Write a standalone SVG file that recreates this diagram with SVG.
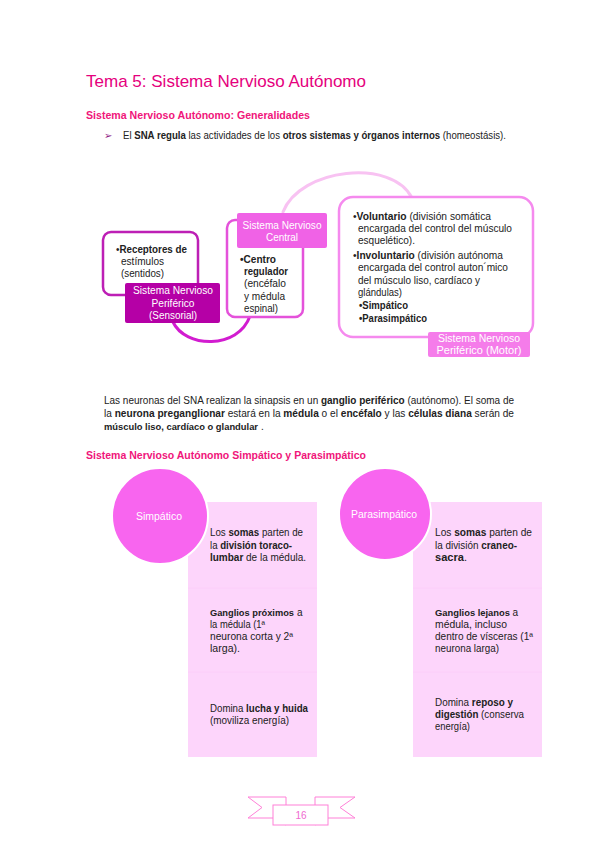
<svg xmlns="http://www.w3.org/2000/svg" width="599" height="848" viewBox="0 0 599 848">
<style>
.t{font-family:"Liberation Sans",Arial,sans-serif;font-size:10px;fill:#222}
.b{font-weight:bold}
.s{font-size:9.6px}
.w{fill:#fff}
.h1{font-family:"Liberation Sans",Arial,sans-serif;font-size:17px;fill:#E5007D}
.h2{font-family:"Liberation Sans",Arial,sans-serif;font-size:11px;font-weight:bold;fill:#F0157A}
.c{text-anchor:middle}
.arc{fill:none;stroke-width:3;stroke-linecap:round}
.box{fill:#fff;stroke-width:2.5}
.col{fill:#FDD5FB}
.sep{stroke:#FCCEF9;stroke-width:1}
.circ{fill:#F865EF;stroke:#fff;stroke-width:2}
.rib{fill:#fff;stroke:#FF80D8;stroke-width:1}
</style>
<rect width="599" height="848" fill="#fff"/>

<g id="title">
<text class="h1" x="86" y="87" textLength="280" lengthAdjust="spacingAndGlyphs">Tema 5: Sistema Nervioso Autónomo</text>
<text class="h2" x="86" y="119" textLength="224" lengthAdjust="spacingAndGlyphs">Sistema Nervioso Autónomo: Generalidades</text>
<text x="104" y="139" font-family="DejaVu Sans,sans-serif" font-size="10" fill="#8E1B84">➢</text>
<text class="t" x="123" y="139" textLength="383" lengthAdjust="spacingAndGlyphs">El <tspan class="b">SNA regula</tspan> las actividades de los <tspan class="b">otros sistemas y órganos internos</tspan> (homeostásis).</text>
</g>

<g id="connectors">
<path class="arc" stroke="#D21CD0" d="M173,322 C185,348 238,350 250,316"/>
<path class="arc" stroke="#F8C2F2" d="M283,212 C300,168 392,158 412,198"/>
</g>

<g id="sensorial">
<rect class="box" x="103" y="232" width="95" height="63" rx="8" stroke="#BD1FB5"/>
<text class="t" x="116" y="253" textLength="71" lengthAdjust="spacingAndGlyphs">•<tspan class="b">Receptores de</tspan></text>
<text class="t" x="121" y="265" textLength="43" lengthAdjust="spacingAndGlyphs">estímulos</text>
<text class="t" x="121" y="277" textLength="43" lengthAdjust="spacingAndGlyphs">(sentidos)</text>
<rect x="125" y="283" width="95" height="40" rx="2" fill="#B500A6"/>
<text class="t w c" x="173" y="294" textLength="80" lengthAdjust="spacingAndGlyphs">Sistema Nervioso</text>
<text class="t w c" x="173" y="307" textLength="43" lengthAdjust="spacingAndGlyphs">Periférico</text>
<text class="t w c" x="173" y="319" textLength="48" lengthAdjust="spacingAndGlyphs">(Sensorial)</text>
</g>

<g id="central">
<rect class="box" x="227" y="220" width="76" height="97" rx="8" stroke="#E452DA"/>
<rect x="237" y="213" width="90" height="35" rx="2" fill="#F062E6"/>
<text class="t w c" x="282" y="229" textLength="79" lengthAdjust="spacingAndGlyphs">Sistema Nervioso</text>
<text class="t w c" x="282" y="241" textLength="32" lengthAdjust="spacingAndGlyphs">Central</text>
<text class="t b" x="240" y="263" textLength="36" lengthAdjust="spacingAndGlyphs">•Centro</text>
<text class="t b" x="244" y="275" textLength="44" lengthAdjust="spacingAndGlyphs">regulador</text>
<text class="t" x="244" y="287" textLength="42" lengthAdjust="spacingAndGlyphs">(encéfalo</text>
<text class="t" x="244" y="300" textLength="41" lengthAdjust="spacingAndGlyphs">y médula</text>
<text class="t" x="244" y="312" textLength="34" lengthAdjust="spacingAndGlyphs">espinal)</text>
</g>

<g id="motor">
<rect class="box" x="339" y="197" width="194" height="140" rx="14" stroke="#F58AEE"/>
<text class="t" x="353" y="220" textLength="138" lengthAdjust="spacingAndGlyphs">•<tspan class="b">Voluntario</tspan> (división somática</text>
<text class="t" x="358" y="232" textLength="154" lengthAdjust="spacingAndGlyphs">encargada del control del músculo</text>
<text class="t" x="358" y="244" textLength="57" lengthAdjust="spacingAndGlyphs">esquelético).</text>
<text class="t" x="353" y="259" textLength="150" lengthAdjust="spacingAndGlyphs">•<tspan class="b">Involuntario</tspan> (división autónoma</text>
<text class="t" x="358" y="271" textLength="150" lengthAdjust="spacingAndGlyphs">encargada del control auton´mico</text>
<text class="t" x="358" y="284" textLength="122" lengthAdjust="spacingAndGlyphs">del músculo liso, cardíaco y</text>
<text class="t" x="358" y="296" textLength="44" lengthAdjust="spacingAndGlyphs">glándulas)</text>
<text class="t b" x="359" y="309" textLength="49" lengthAdjust="spacingAndGlyphs">•Simpático</text>
<text class="t b" x="359" y="322" textLength="68" lengthAdjust="spacingAndGlyphs">•Parasimpático</text>
<rect x="428" y="332" width="102" height="25" rx="2" fill="#F57CEA"/>
<text class="t w c" x="479" y="342" textLength="82" lengthAdjust="spacingAndGlyphs">Sistema Nervioso</text>
<text class="t w c" x="479" y="354" textLength="85" lengthAdjust="spacingAndGlyphs">Periférico (Motor)</text>
</g>

<g id="paragraph">
<text class="t" x="104" y="404" textLength="410" lengthAdjust="spacingAndGlyphs">Las neuronas del SNA realizan la sinapsis en un <tspan class="b">ganglio periférico</tspan> (autónomo). El soma de</text>
<text class="t" x="104" y="417" textLength="410" lengthAdjust="spacingAndGlyphs">la <tspan class="b">neurona preganglionar</tspan> estará en la <tspan class="b">médula</tspan> o el <tspan class="b">encéfalo</tspan> y las <tspan class="b">células diana</tspan> serán de</text>
<text class="t b s" x="104" y="430" textLength="154" lengthAdjust="spacingAndGlyphs">músculo liso, cardíaco o glandular</text>
<text class="t" x="261" y="430">.</text>
<text class="h2" x="86" y="459" textLength="280" lengthAdjust="spacingAndGlyphs">Sistema Nervioso Autónomo Simpático y Parasimpático</text>
</g>

<g id="simpatico">
<rect class="col" x="188" y="502" width="129" height="255"/>
<line class="sep" x1="188" y1="588" x2="317" y2="588"/>
<line class="sep" x1="188" y1="672" x2="317" y2="672"/>
<circle class="circ" cx="160" cy="516" r="48"/>
<text class="t w c" x="159" y="520" textLength="46" lengthAdjust="spacingAndGlyphs">Simpático</text>
<text class="t" x="210" y="536" textLength="93" lengthAdjust="spacingAndGlyphs">Los <tspan class="b">somas</tspan> parten de</text>
<text class="t" x="210" y="549" textLength="82" lengthAdjust="spacingAndGlyphs">la <tspan class="b">división toraco-</tspan></text>
<text class="t" x="210" y="561" textLength="96" lengthAdjust="spacingAndGlyphs"><tspan class="b">lumbar</tspan> de la médula.</text>
<text class="t b s" x="210" y="616" textLength="84" lengthAdjust="spacingAndGlyphs">Ganglios próximos</text>
<text class="t" x="297" y="616">a</text>
<text class="t" x="210" y="628" textLength="55" lengthAdjust="spacingAndGlyphs">la médula (1ª</text>
<text class="t" x="210" y="640" textLength="83" lengthAdjust="spacingAndGlyphs">neurona corta y 2ª</text>
<text class="t" x="210" y="652" textLength="30" lengthAdjust="spacingAndGlyphs">larga).</text>
<text class="t" x="210" y="712" textLength="98" lengthAdjust="spacingAndGlyphs">Domina <tspan class="b">lucha y huida</tspan></text>
<text class="t" x="210" y="724" textLength="79" lengthAdjust="spacingAndGlyphs">(moviliza energía)</text>
</g>

<g id="parasimpatico">
<rect class="col" x="413" y="502" width="129" height="255"/>
<line class="sep" x1="413" y1="588" x2="542" y2="588"/>
<line class="sep" x1="413" y1="672" x2="542" y2="672"/>
<circle class="circ" cx="385" cy="514" r="46"/>
<text class="t w c" x="384" y="518" textLength="66" lengthAdjust="spacingAndGlyphs">Parasimpático</text>
<text class="t" x="435" y="536" textLength="97" lengthAdjust="spacingAndGlyphs">Los <tspan class="b">somas</tspan> parten de</text>
<text class="t" x="435" y="549" textLength="82" lengthAdjust="spacingAndGlyphs">la división <tspan class="b">craneo-</tspan></text>
<text class="t" x="435" y="561" textLength="32" lengthAdjust="spacingAndGlyphs"><tspan class="b">sacra</tspan>.</text>
<text class="t b s" x="435" y="616" textLength="75" lengthAdjust="spacingAndGlyphs">Ganglios lejanos</text>
<text class="t" x="512.5" y="616">a</text>
<text class="t" x="435" y="628" textLength="72" lengthAdjust="spacingAndGlyphs">médula, incluso</text>
<text class="t" x="435" y="640" textLength="98" lengthAdjust="spacingAndGlyphs">dentro de vísceras (1ª</text>
<text class="t" x="435" y="652" textLength="64" lengthAdjust="spacingAndGlyphs">neurona larga)</text>
<text class="t" x="435" y="706" textLength="78" lengthAdjust="spacingAndGlyphs">Domina <tspan class="b">reposo y</tspan></text>
<text class="t" x="435" y="718" textLength="89" lengthAdjust="spacingAndGlyphs"><tspan class="b">digestión</tspan> (conserva</text>
<text class="t" x="435" y="730" textLength="35" lengthAdjust="spacingAndGlyphs">energía)</text>
</g>

<g id="page-number">
<polygon class="rib" points="248,797 286,797 286,818 248,818 262,807.5"/>
<polygon class="rib" points="355,797 315,797 315,818 355,818 340,807.5"/>
<polygon class="rib" points="273,818 286,818 286,825"/>
<polygon class="rib" points="328,818 315,818 315,825"/>
<rect class="rib" x="273" y="805" width="55" height="20"/>
<text x="301" y="819" text-anchor="middle" font-family="Liberation Sans,Arial,sans-serif" font-size="10" fill="#F06AD0">16</text>
</g>
</svg>
